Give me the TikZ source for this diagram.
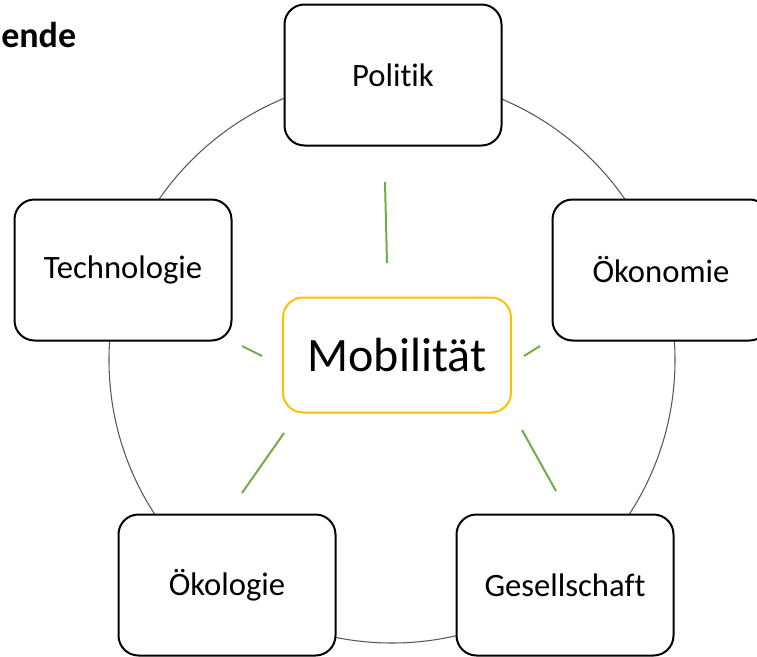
\documentclass[tikz,border=0pt]{standalone}
\usepackage{fontspec}
\setmainfont{Carlito}[Ligatures=NoCommon]
\definecolor{hubyellow}{HTML}{FFC000}
\definecolor{linkgreen}{HTML}{70AD47}
\begin{document}
\begin{tikzpicture}[x=0.75pt,y=-0.75pt,
    field/.style={draw,line width=1.5pt,rounded corners=15pt,fill=white,
      minimum width=162.75pt,minimum height=105.75pt,
      font=\fontsize{24.5}{29}\selectfont},
    hub/.style={draw=hubyellow,line width=1.5pt,rounded corners=15pt,fill=white,
      minimum width=171pt,minimum height=86.25pt,
      font=\fontsize{36}{43}\selectfont},
    link/.style={draw=linkgreen,line width=1.5pt}]
\useasboundingbox (0,0) rectangle (757,657);
\clip (0,0) rectangle (757,657);
% ring behind the fields
\draw[black!65,line width=0.8pt] (392,360) circle[radius=212.25pt];
\node[field] (pol) at (393,75) {Politik};
\node[field] (tec) at (123,270) {Technologie};
\node[field] (oek) at (661,270) {Ökonomie};
\node[field] (eko) at (227,585) {Ökologie};
\node[field] (ges) at (565,585) {Gesellschaft};
\node[hub] (mob) at (397,355) {Mobilität};
\node[anchor=base west,inner sep=0pt,font=\fontsize{27}{32}\selectfont\bfseries] (leg) at (1,47) {ende};
% green spokes
\coordinate (p1) at (385,182); \coordinate (p2) at (387,263);
\coordinate (t1) at (242,346); \coordinate (t2) at (262,356);
\coordinate (o1) at (524,356); \coordinate (o2) at (540,346);
\coordinate (e1) at (284,433); \coordinate (e2) at (242,493);
\coordinate (g1) at (522,430); \coordinate (g2) at (556,491);
\draw[link] (p1) -- (p2);
\draw[link] (t1) -- (t2);
\draw[link] (o1) -- (o2);
\draw[link] (e1) -- (e2);
\draw[link] (g1) -- (g2);
\end{tikzpicture}
\end{document}
